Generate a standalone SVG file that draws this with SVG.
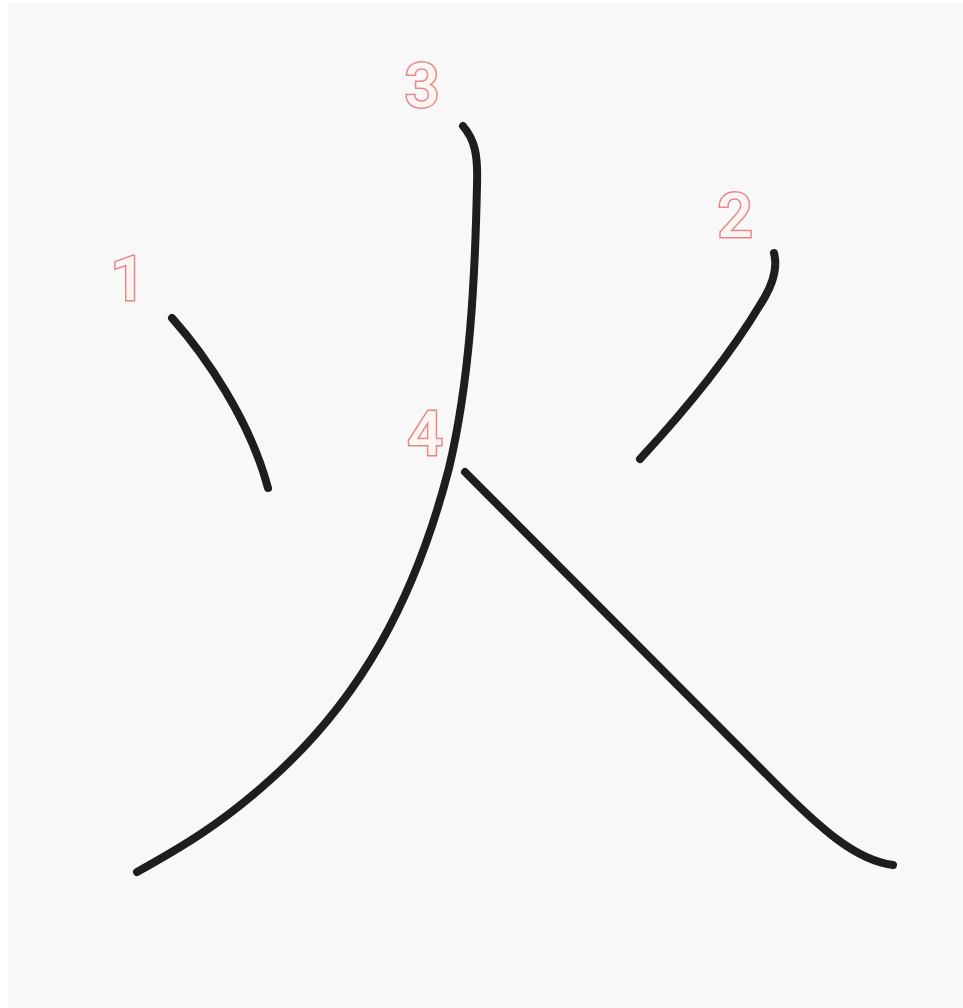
<svg xmlns="http://www.w3.org/2000/svg" width="963" height="1008" viewBox="0 0 963 1008">
<style>
.s{fill:none;stroke:#1e1e1e;stroke-width:8;stroke-linecap:round;stroke-linejoin:round}
.n{font-family:Roboto,"Liberation Sans",sans-serif;font-size:62px;font-weight:500;text-anchor:middle;fill:#fdf4f4;stroke:#e48888;stroke-width:3;paint-order:stroke}
</style>
<rect x="0" y="0" width="963" height="1008" fill="#ffffff"/>
<rect x="8" y="3" width="955" height="1005" fill="#f8f8f8"/>
<g id="strokes">
<path id="s1" class="s" d="M172,318 C205,355 250,420 268,488"/>
<path id="s2" class="s" d="M774,253 C778,268 773,285 760,305 C730,355 690,405 640,459"/>
<path id="s3" class="s" d="M463,126 C475,140 478,155 477,185 C475,280 470,380 449,468 C415,600 360,700 270,780 C220,825 180,848 137,872"/>
<path id="s4" class="s" d="M465,472 L775,783 C820,828 855,860 893,865"/>
</g>
<g id="labels">
<text id="n1" class="n" x="128" y="300">1</text>
<text id="n2" class="n" x="735" y="237">2</text>
<text id="n3" class="n" x="422" y="107">3</text>
<text id="n4" class="n" x="425" y="455">4</text>
</g>
</svg>
